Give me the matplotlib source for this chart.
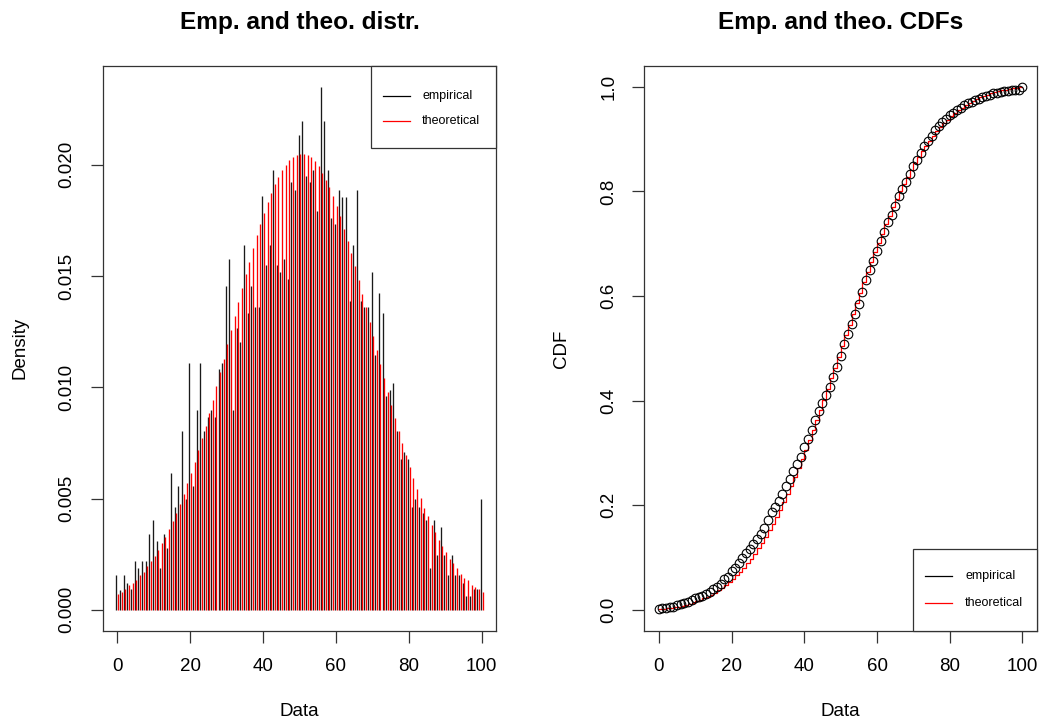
import numpy as np
import matplotlib
matplotlib.use("Agg")
import matplotlib.pyplot as plt
from matplotlib.patches import Rectangle
from matplotlib.lines import Line2D

plt.rcParams['font.family'] = ['Liberation Sans', 'DejaVu Sans']

# observed values 0..100
data_values = np.arange(0, 101)

# empirical density (black)
emp_density = [
    0.00155, 0.00091, 0.00155, 0.00122, 0.00092, 0.00218, 0.00187, 0.00218, 0.00218, 0.00340,
    0.00404, 0.00308, 0.00187, 0.00340, 0.00278, 0.00617, 0.00461, 0.00557, 0.00803, 0.00496,
    0.01110, 0.00556, 0.00898, 0.01110, 0.00803, 0.00868, 0.00898, 0.00868, 0.01082, 0.01110,
    0.01453, 0.01576, 0.00898, 0.01267, 0.01204, 0.01638, 0.01333, 0.01456, 0.01363, 0.01363,
    0.01858, 0.01550, 0.01640, 0.01978, 0.01550, 0.01517, 0.01576, 0.01486, 0.01921, 0.01888,
    0.02132, 0.02195, 0.01948, 0.01921, 0.01978, 0.01793, 0.02350, 0.02195, 0.01978, 0.01762,
    0.01735, 0.01888, 0.01855, 0.01855, 0.01390, 0.01639, 0.01888, 0.01390, 0.01363, 0.01363,
    0.01517, 0.01145, 0.01423, 0.01333, 0.00961, 0.00988, 0.01018, 0.00802, 0.00679, 0.00710,
    0.00679, 0.00463, 0.00496, 0.00463, 0.00433, 0.00403, 0.00188, 0.00403, 0.00245, 0.00373,
    0.00245, 0.00155, 0.00245, 0.00155, 0.00155, 0.00122, 0.00061, 0.00061, 0.00092, 0.00092,
    0.00496,
]

# fitted (theoretical) density (red)
theo_density = [
    0.00073, 0.00080, 0.00095, 0.00110, 0.00122, 0.00136, 0.00155, 0.00170, 0.00196, 0.00218,
    0.00241, 0.00268, 0.00298, 0.00325, 0.00362, 0.00398, 0.00434, 0.00476, 0.00520, 0.00568,
    0.00613, 0.00662, 0.00718, 0.00770, 0.00826, 0.00883, 0.00943, 0.01006, 0.01067, 0.01127,
    0.01195, 0.01258, 0.01321, 0.01385, 0.01448, 0.01508, 0.01565, 0.01625, 0.01685, 0.01735,
    0.01783, 0.01834, 0.01873, 0.01915, 0.01946, 0.01978, 0.02000, 0.02023, 0.02036, 0.02045,
    0.02050, 0.02050, 0.02045, 0.02036, 0.02015, 0.01993, 0.01963, 0.01933, 0.01898, 0.01858,
    0.01813, 0.01768, 0.01711, 0.01658, 0.01603, 0.01543, 0.01480, 0.01420, 0.01360, 0.01295,
    0.01232, 0.01168, 0.01105, 0.01040, 0.00979, 0.00920, 0.00862, 0.00802, 0.00748, 0.00695,
    0.00643, 0.00593, 0.00545, 0.00503, 0.00458, 0.00422, 0.00380, 0.00350, 0.00313, 0.00286,
    0.00260, 0.00230, 0.00211, 0.00188, 0.00163, 0.00145, 0.00133, 0.00113, 0.00103, 0.00092,
    0.00080,
]

emp_density = np.array(emp_density)
theo_density = np.array(theo_density)
emp_cdf = np.cumsum(emp_density) / emp_density.sum()
theo_cdf = np.cumsum(theo_density) / theo_density.sum()

W, H = 1040, 727
fig = plt.figure(figsize=(W / 100, H / 100), dpi=100)


def axes_px(x0, x1, y0, y1):
    return fig.add_axes([x0 / W, 1 - y1 / H, (x1 - x0) / W, (y1 - y0) / H])


def r_style(ax):
    for s in ax.spines.values():
        s.set_linewidth(0.9)
        s.set_color('#333333')
    ax.tick_params(direction='out', length=8.5, width=0.9, labelsize=13.5,
                   color='#333333', pad=11)
    ax.tick_params(axis='y', labelrotation=90)
    for lbl in ax.get_yticklabels():
        lbl.set_va('center')


def r_legend(ax, x0, y0, y1, line_y, seg, text_x):
    ax.add_patch(Rectangle((x0, y0), 1 - x0, y1 - y0, transform=ax.transAxes,
                           fill=True, facecolor='white', edgecolor='#333333',
                           lw=0.9, zorder=5, clip_on=False))
    for yy, col, lab in zip(line_y, ['black', 'red'], ['empirical', 'theoretical']):
        ax.add_line(Line2D(seg, [yy, yy], transform=ax.transAxes, color=col,
                           lw=0.9, zorder=6))
        ax.text(text_x, yy, lab, transform=ax.transAxes, fontsize=9,
                va='center', ha='left', zorder=6)


# ---- left: densities ----
ax1 = axes_px(102.7, 496.3, 66, 630.7)
ax1.vlines(data_values - 0.22, 0, emp_density, color='#1a1a1a', lw=0.95)
ax1.vlines(data_values + 0.22, 0, theo_density, color='red', lw=0.95)
ymax = emp_density.max()
ax1.set_xlim(-4, 104)
ax1.set_ylim(-0.04 * ymax, 1.04 * ymax)
ax1.set_xticks([0, 20, 40, 60, 80, 100])
ax1.set_yticks([0, 0.005, 0.010, 0.015, 0.020])
ax1.set_yticklabels(['0.000', '0.005', '0.010', '0.015', '0.020'])
r_style(ax1)
ax1.set_title('Emp. and theo. distr.', fontsize=17.6, fontweight='bold', pad=27)
ax1.set_xlabel('Data', fontsize=13.5, labelpad=20)
ax1.set_ylabel('Density', fontsize=13.5, labelpad=22)
r_legend(ax1, 0.6817, 0.8548, 1.0, [0.9469, 0.9026], [0.7121, 0.7808], 0.8113)

# ---- right: CDFs ----
ax2 = axes_px(644.3, 1037, 66, 630.7)
ax2.step(data_values, theo_cdf, where='post', color='red', lw=0.9)
ax2.plot(data_values, emp_cdf, 'o', mfc='none', mec='black', ms=6.2, mew=0.8)
ax2.set_xlim(-4, 104)
ax2.set_ylim(-0.04, 1.04)
ax2.set_xticks([0, 20, 40, 60, 80, 100])
ax2.set_yticks([0, 0.2, 0.4, 0.6, 0.8, 1.0])
ax2.set_yticklabels(['0.0', '0.2', '0.4', '0.6', '0.8', '1.0'])
r_style(ax2)
ax2.set_title('Emp. and theo. CDFs', fontsize=17.6, fontweight='bold', pad=27)
ax2.set_xlabel('Data', fontsize=13.5, labelpad=20)
ax2.set_ylabel('CDF', fontsize=13.5, labelpad=22)
r_legend(ax2, 0.685, 0.0, 0.1441, [0.0969, 0.0496], [0.7148, 0.7836], 0.8167)

fig.savefig('out.png', dpi=100, facecolor='white')
